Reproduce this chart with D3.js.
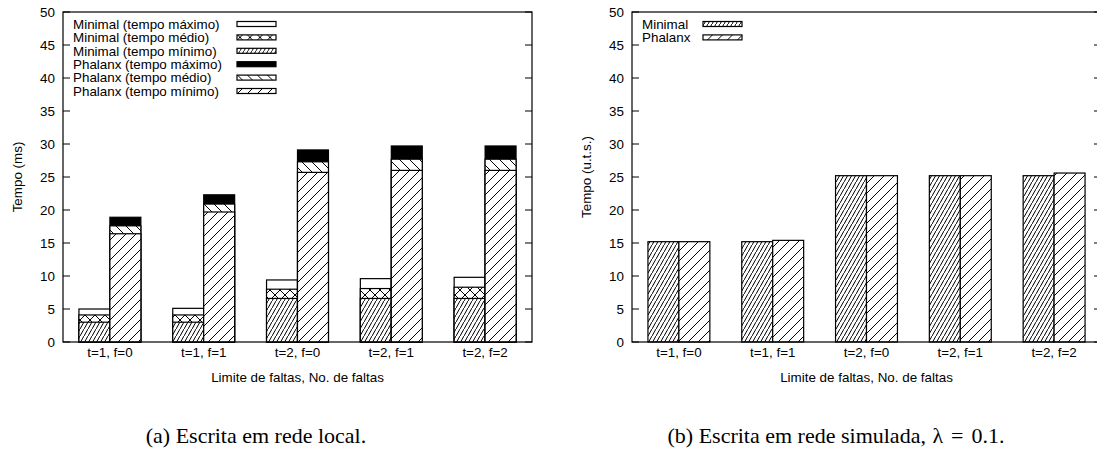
<!DOCTYPE html>
<html>
<head>
<meta charset="utf-8">
<script src="https://cdn.jsdelivr.net/npm/d3@7"></script>
<style>
  body { margin: 0; background: #fff; }
  svg { display: block; }
  text { font-family: "Liberation Sans", Arial, sans-serif; }
</style>
</head>
<body>
<script>
// categories (shared by both panels)
const categories = ["t=1, f=0", "t=1, f=1", "t=2, f=0", "t=2, f=1", "t=2, f=2"];
const yTicks = [0, 5, 10, 15, 20, 25, 30, 35, 40, 45, 50];

// (a) local network, ms
const minimalMax = [5.0, 5.1, 9.4, 9.6, 9.8];
const minimalMean = [4.1, 4.1, 8.0, 8.1, 8.3];
const minimalMin = [3.0, 3.0, 6.6, 6.6, 6.6];
const phalanxMax = [18.9, 22.3, 29.1, 29.7, 29.7];
const phalanxMean = [17.6, 20.9, 27.3, 27.7, 27.7];
const phalanxMin = [16.4, 19.7, 25.7, 26.0, 26.0];

// (b) simulated network, u.t.s.
const simMinimal = [15.2, 15.2, 25.2, 25.2, 25.2];
const simPhalanx = [15.2, 15.4, 25.2, 25.2, 25.6];

const width = 1097, height = 453;
const fs = 13.4;
const svg = d3.select("body").append("svg")
    .attr("width", width)
    .attr("height", height);

// fill patterns, gnuplot style
const defs = svg.append("defs");
function hatch(id, w, h, lines) {
  const p = defs.append("pattern")
      .attr("id", id)
      .attr("patternUnits", "userSpaceOnUse")
      .attr("width", w)
      .attr("height", h);
  p.append("rect").attr("width", w).attr("height", h).attr("fill", "#fff");
  lines.forEach(l => p.append("line")
      .attr("x1", l[0]).attr("y1", l[1]).attr("x2", l[2]).attr("y2", l[3])
      .attr("stroke", "#000").attr("stroke-width", 1));
}
hatch("dense", 4, 7, [[-1, 8.75, 5, -1.75]]);
hatch("cross", 10, 10, [[0, 0, 10, 10], [0, 10, 10, 0]]);
hatch("sparse", 10, 10, [[-1, 11, 11, -1], [-2, 2, 2, -2], [8, 12, 12, 8]]);
hatch("back", 10, 10, [[-1, -1, 11, 11], [-2, 8, 2, 12], [8, -2, 12, 2]]);

const fills = {
  empty: "#fff", cross: "url(#cross)", dense: "url(#dense)",
  solid: "#000", back: "url(#back)", sparse: "url(#sparse)"
};

const marginTop = 12, marginBottom = 111;
const y = d3.scaleLinear().domain([0, 50]).range([height - marginBottom, marginTop]);
const barW = 0.33;

function panel(x0, x1, yLabel, caption, series, legend) {
  const x = d3.scaleLinear().domain([-0.5, 4.5]).range([x0, x1]);
  const g = svg.append("g");

  // bars
  series.forEach(s => {
    g.append("g").selectAll("rect")
      .data(s.values)
      .join("rect")
      .attr("x", (d, i) => x(i + s.offset * barW))
      .attr("width", x(barW) - x(0))
      .attr("y", d => y(d))
      .attr("height", d => y(0) - y(d))
      .attr("fill", fills[s.fill])
      .attr("stroke", "#000")
      .attr("stroke-width", 1.2);
  });

  // frame
  g.append("rect")
    .attr("x", x0).attr("y", y(50))
    .attr("width", x1 - x0).attr("height", y(0) - y(50))
    .attr("fill", "none").attr("stroke", "#000").attr("stroke-width", 1.2);

  // y ticks, mirrored inward
  const yt = g.append("g").selectAll("g").data(yTicks).join("g");
  yt.append("line")
    .attr("x1", x0).attr("x2", x0 + 7)
    .attr("y1", d => y(d)).attr("y2", d => y(d))
    .attr("stroke", "#000");
  yt.append("line")
    .attr("x1", x1 - 7).attr("x2", x1)
    .attr("y1", d => y(d)).attr("y2", d => y(d))
    .attr("stroke", "#000");
  yt.append("text")
    .attr("x", x0 - 8).attr("y", d => y(d))
    .attr("dy", "0.35em").attr("text-anchor", "end")
    .attr("font-size", fs)
    .text(d => d);

  // x tick labels
  g.append("g").selectAll("text").data(categories).join("text")
    .attr("x", (d, i) => x(i))
    .attr("y", y(0) + 10).attr("dy", "0.35em")
    .attr("text-anchor", "middle").attr("font-size", fs)
    .text(d => d);

  // axis titles
  g.append("text")
    .attr("x", (x0 + x1) / 2).attr("y", y(0) + 35).attr("dy", "0.35em")
    .attr("text-anchor", "middle").attr("font-size", fs)
    .text("Limite de faltas, No. de faltas");
  g.append("text")
    .attr("transform", `translate(${x0 - 46},${(y(0) + y(50)) / 2}) rotate(-90)`)
    .attr("dy", "0.35em").attr("text-anchor", "middle").attr("font-size", fs)
    .text(yLabel);

  // legend
  const lg = g.append("g").selectAll("g").data(legend).join("g")
    .attr("transform", (d, i) => `translate(0,${24 + i * 13.4})`);
  lg.append("text")
    .attr("x", x0 + 10).attr("dy", "0.35em").attr("font-size", fs)
    .text(d => d.label);
  lg.append("rect")
    .attr("x", d => d.sx).attr("y", -2.5)
    .attr("width", 39).attr("height", 5)
    .attr("fill", d => fills[d.fill])
    .attr("stroke", "#000").attr("stroke-width", 1.2);

  // caption
  const cap = svg.append("text")
    .attr("x", caption.x).attr("y", 443)
    .attr("text-anchor", "middle")
    .style("font-family", "'Liberation Serif', 'Times New Roman', serif")
    .attr("font-size", 22);
  caption.parts.forEach(p => cap.append("tspan")
    .attr("dx", p.dx || 0)
    .style("font-style", p.italic ? "italic" : null)
    .text(p.t));
}

panel(63, 532, "Tempo (ms)",
  {x: 256, parts: [{t: "(a) Escrita em rede local."}]},
  [
    {values: minimalMax, fill: "empty", offset: -1},
    {values: minimalMean, fill: "cross", offset: -1},
    {values: minimalMin, fill: "dense", offset: -1},
    {values: phalanxMax, fill: "solid", offset: 0},
    {values: phalanxMean, fill: "back", offset: 0},
    {values: phalanxMin, fill: "sparse", offset: 0}
  ],
  [
    {label: "Minimal (tempo máximo)", fill: "empty", sx: 237},
    {label: "Minimal (tempo médio)", fill: "cross", sx: 237},
    {label: "Minimal (tempo mínimo)", fill: "dense", sx: 237},
    {label: "Phalanx (tempo máximo)", fill: "solid", sx: 237},
    {label: "Phalanx (tempo médio)", fill: "back", sx: 237},
    {label: "Phalanx (tempo mínimo)", fill: "sparse", sx: 237}
  ]);

panel(632, 1101, "Tempo (u.t.s.)",
  {x: 836, parts: [
    {t: "(b) Escrita em rede simulada, "},
    {t: "λ", dx: 1},
    {t: "=", dx: 8},
    {t: "0.1.", dx: 8}
  ]},
  [
    {values: simMinimal, fill: "dense", offset: -1},
    {values: simPhalanx, fill: "sparse", offset: 0}
  ],
  [
    {label: "Minimal", fill: "dense", sx: 703},
    {label: "Phalanx", fill: "sparse", sx: 703}
  ]);
</script>
</body>
</html>
